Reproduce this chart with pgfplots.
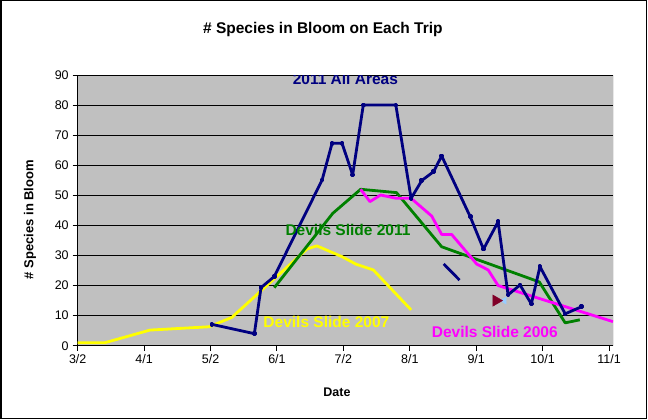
\documentclass[border=0pt]{standalone}
\usepackage{pgfplots}
\pgfplotsset{compat=1.18}
\usepackage{fontspec}
\setmainfont{Liberation Sans}
\definecolor{navyc}{RGB}{0,0,128}
\definecolor{greenc}{RGB}{0,128,0}
\definecolor{yellowc}{RGB}{255,255,0}
\definecolor{magc}{RGB}{255,0,255}
\definecolor{bgc}{RGB}{192,192,192}
\definecolor{maroonc}{RGB}{128,0,40}
\definecolor{lbluec}{RGB}{153,204,255}
\begin{document}
\begin{tikzpicture}
\useasboundingbox (0,0) rectangle (648bp,420bp);
\fill[white] (0,0) rectangle (648bp,420bp);
\draw[black,line width=1.5bp] (0.75bp,1.5bp) rectangle (646.5bp,419.25bp);
\begin{axis}[
  at={(77.7bp,74.3bp)}, anchor=south west,
  scale only axis, width=535.3bp, height=270.7bp,
  xmin=0, xmax=8.06, ymin=0, ymax=90,
  axis background/.style={fill=bgc},
  axis x line*=bottom, axis y line*=left,
  axis line style={black,line width=1bp},
  xtick={0,1,2,3,4,5,6,7,8},
  xticklabels={3/2,4/1,5/2,6/1,7/2,8/1,9/1,10/1,11/1},
  ytick={0,10,...,90},
  tick align=outside, major tick length=5bp,
  tick style={black,line width=1bp},
  ymajorgrids, grid style={black,line width=1bp},
  /pgf/number format/assume math mode=true,
  ticklabel style={font=\fontsize{12.5bp}{14bp}\selectfont},
  yticklabel style={xshift=-0.5bp},
  title={\# Species in Bloom on Each Trip},
  title style={font=\bfseries\fontsize{15.5bp}{18bp}\selectfont, at={(rel axis cs:0.458,1.133)}, anchor=base},
  xlabel={Date},
  xlabel style={font=\bfseries\fontsize{12.5bp}{15bp}\selectfont, at={(rel axis cs:0.4844,-0.171)}, anchor=center},
  ylabel={\# Species in Bloom},
  ylabel style={font=\bfseries\fontsize{13bp}{15bp}\selectfont, at={(rel axis cs:-0.0891,0.466)}, anchor=center, rotate=0},
  clip=true,
]
\draw[gray!60!black,line width=0.8bp] (rel axis cs:1,0) -- (rel axis cs:1,1);
% Devils Slide 2007
\addplot[yellowc, line width=2.8bp, line join=round] coordinates {
(0,1) (0.41,1) (1.09,5.2) (1.34,5.5) (1.98,6.3) (2.32,9.4) (3.45,32.1) (3.60,33.2) (3.98,29.6) (4.19,27.1) (4.45,25.2) (5.02,11.9)};
% Devils Slide 2011
\addplot[greenc, line width=2.8bp, line join=round] coordinates {
(2.96,19.3) (3.84,44) (4.26,52) (4.80,50.9) (5.48,32.9) (6.95,21.2) (7.34,7.6) (7.56,8.6)};
% Devils Slide 2006
\addplot[magc, line width=2.8bp, line join=round] coordinates {
(4.26,52) (4.40,47.9) (4.56,50.1) (4.80,49) (5.02,49) (5.33,43.1) (5.48,37) (5.63,37) (6.01,27.1) (6.18,25.2) (6.33,20) (8.06,8.0)};
% 2011 All Areas
\addplot[navyc, line width=2.8bp, line join=round, mark=square*, mark size=0.9bp, mark options={navyc}] coordinates {
(2.02,7.1) (2.66,4.0) (2.76,19.3) (2.96,23.0) (3.68,55.1) (3.83,67.3) (3.98,67.3) (4.14,56.8) (4.30,80) (4.79,80) (5.02,49) (5.18,54.9) (5.36,57.9) (5.48,63.1) (5.91,42.9) (6.11,32.1) (6.33,41.2) (6.48,16.9) (6.66,20.2) (6.83,13.9) (6.96,26.3) (7.34,10.6) (7.59,13.0)};
\addplot[navyc, line width=2.8bp] coordinates {(5.51,27.2) (5.75,21.8)};
% markers
\addplot[only marks, mark=triangle*, mark size=4bp, mark options={rotate=90, fill=lbluec, draw=lbluec}] coordinates {(6.42,15.0)};
\addplot[only marks, mark=triangle*, mark size=6.5bp, mark options={rotate=-90, fill=maroonc, draw=maroonc}] coordinates {(6.30,15.0)};
% labels
\node[anchor=base, text=navyc, font=\bfseries\fontsize{15.5bp}{18bp}\selectfont] at (axis cs:4.03,86.7) {2011 All Areas};
\node[anchor=base, text=greenc, font=\bfseries\fontsize{15.5bp}{18bp}\selectfont] at (axis cs:4.07,36.8) {Devils Slide 2011};
\node[anchor=base, text=yellowc, font=\bfseries\fontsize{15.5bp}{18bp}\selectfont] at (axis cs:3.744,6.1) {Devils Slide 2007};
\node[anchor=base, text=magc, font=\bfseries\fontsize{15.5bp}{18bp}\selectfont] at (axis cs:6.28,2.8) {Devils Slide 2006};
\end{axis}
\end{tikzpicture}
\end{document}
